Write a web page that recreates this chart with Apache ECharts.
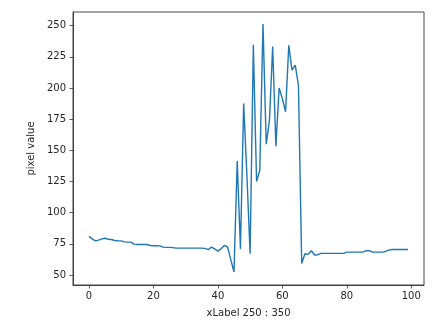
<!DOCTYPE html>
<html>
<head>
<meta charset="utf-8">
<script src="https://cdn.jsdelivr.net/npm/echarts@6/dist/echarts.min.js"></script>
<style>
html,body{margin:0;padding:0;background:#fff;}
#chart{width:441px;height:323px;}
</style>
</head>
<body>
<div id="chart"></div>
<script>
const pixelValues = [
  81, 79, 77.4, 78, 79, 79.5, 78.7, 78.5, 77.7, 77.4,
  77.4, 76.6, 76.4, 76.4, 74.8, 74.5, 74.5, 74.5, 74.5, 73.7,
  73.5, 73.5, 73.4, 72.4, 72.2, 72.2, 72.0, 71.6, 71.6, 71.6,
  71.6, 71.6, 71.6, 71.6, 71.6, 71.6, 71.4, 70.3, 72.4, 71,
  69.2, 71, 73.7, 72.6, 62.4, 52.4, 141.4, 71, 187.5, 130,
  67.1, 234.7, 125, 134, 251.3, 155, 174, 233.4, 153.3, 200,
  191.5, 181, 234.2, 214.4, 218.4, 202, 59.2, 67.1, 66.6, 69.5,
  66.1, 66.3, 67.4, 67.4, 67.4, 67.4, 67.4, 67.4, 67.4, 67.4,
  68.4, 68.4, 68.4, 68.4, 68.4, 68.4, 69.5, 69.5, 68.4, 68.4,
  68.4, 68.4, 68.9, 70, 70.5, 70.5, 70.5, 70.5, 70.5, 70.5
];
const xTicks = [0, 20, 40, 60, 80, 100];
const yTicks = [50, 75, 100, 125, 150, 175, 200, 225, 250];
const xName = 'xLabel 250 : 350';
const yName = 'pixel value';

const seriesData = pixelValues.map((v, i) => [i, v]);

const chart = echarts.init(document.getElementById('chart'), null, {renderer: 'canvas'});
const textColor = '#262626';
const font = 'DejaVu Sans';
const axisColor = '#333';
chart.setOption({
  animation: false,
  backgroundColor: '#fff',
  grid: {left: 73, top: 12, right: 17, bottom: 34, show: true, borderColor: axisColor, borderWidth: 0.9, backgroundColor: 'transparent'},
  xAxis: {
    type: 'value', min: -4.95, max: 103.95,
    name: xName, nameLocation: 'middle', nameGap: 23,
    nameTextStyle: {color: textColor, fontFamily: font, fontSize: 10},
    axisLine: {show: true, onZero: false, lineStyle: {color: axisColor, width: 0.9}},
    axisTick: {show: true, length: 3.5, customValues: xTicks, lineStyle: {color: axisColor, width: 0.8}},
    axisLabel: {customValues: xTicks, color: textColor, fontFamily: font, fontSize: 10, margin: 6},
    splitLine: {show: false}
  },
  yAxis: {
    type: 'value', min: 42, max: 261,
    name: yName, nameLocation: 'middle', nameGap: 34, nameRotate: 90,
    nameTextStyle: {color: textColor, fontFamily: font, fontSize: 10},
    axisLine: {show: true, onZero: false, lineStyle: {color: axisColor, width: 0.9}},
    axisTick: {show: true, length: 3.5, customValues: yTicks, lineStyle: {color: axisColor, width: 0.8}},
    axisLabel: {customValues: yTicks, color: textColor, fontFamily: font, fontSize: 10, margin: 7},
    splitLine: {show: false}
  },
  series: [{
    type: 'line', data: seriesData, showSymbol: false, symbol: 'none',
    lineStyle: {color: '#1f77b4', width: 1.4}, smooth: false
  }]
});
</script>
</body>
</html>
